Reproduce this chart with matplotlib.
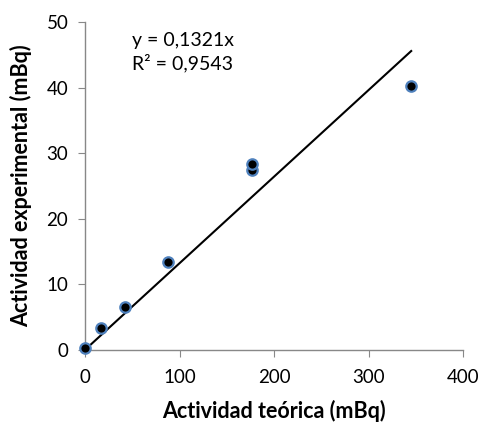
import matplotlib
matplotlib.use("Agg")
import matplotlib.pyplot as plt
import numpy as np

x_teorica = [0, 17, 42, 88, 177, 177, 345]
y_experimental = [0.3, 3.3, 6.5, 13.4, 27.5, 28.3, 40.3]
slope = 0.1321
r2_text = "R² = 0,9543"
eq_text = "y = 0,1321x"
xticks = [0, 100, 200, 300, 400]
yticks = [0, 10, 20, 30, 40, 50]

plt.rcParams['font.family'] = ['Lato', 'DejaVu Sans']

fig = plt.figure(figsize=(4.83, 4.23), dpi=100)
ax = fig.add_axes([0.176, 0.173, 0.783, 0.775])

xl = np.array([0, max(x_teorica)])
ax.plot(xl, slope * xl, color='black', lw=1.5, zorder=2)
ax.plot(x_teorica, y_experimental, 'o', ms=7.5, mfc='black', mec='#4F81BD', mew=1.6, zorder=3, clip_on=False)

ax.set_xlim(0, 400)
ax.set_ylim(0, 50)
ax.set_xticks(xticks)
ax.set_yticks(yticks)
for s in ['top', 'right']:
    ax.spines[s].set_visible(False)
for s in ['left', 'bottom']:
    ax.spines[s].set_color('#888888')
    ax.spines[s].set_linewidth(1.0)
ax.tick_params(direction='out', length=5, color='#888888', labelsize=13.5)
ax.tick_params(axis='x', pad=9)
ax.tick_params(axis='y', pad=7)

ax.set_xlabel('Actividad teórica (mBq)', fontsize=15.5, fontweight='bold', labelpad=10)
ax.set_ylabel('Actividad experimental (mBq)', fontsize=15.5, fontweight='bold', labelpad=10)

ax.text(50, 47.2, eq_text, fontsize=14, va='center', ha='left')
ax.text(50, 43.8, r2_text, fontsize=14, va='center', ha='left')

fig.savefig('out.png', dpi=100)
